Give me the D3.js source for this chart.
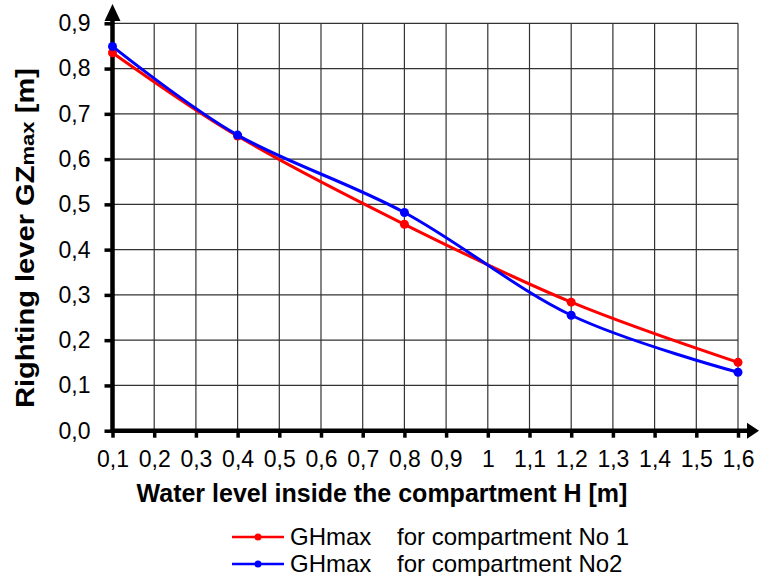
<!DOCTYPE html>
<html>
<head>
<meta charset="utf-8">
<script src="https://cdn.jsdelivr.net/npm/d3@7"></script>
<style>
  body { margin: 0; background: #fff; }
  text { font-family: "Liberation Sans", Arial, sans-serif; }
</style>
</head>
<body>
<div id="chart"></div>
<script>
// water level H [m] at the computed points
var levels = [0.1, 0.4, 0.8, 1.2, 1.6];
var gzComp1 = [0.835, 0.651, 0.456, 0.284, 0.151];
var gzComp2 = [0.849, 0.653, 0.482, 0.255, 0.129];
var xTicks = [0.1,0.2,0.3,0.4,0.5,0.6,0.7,0.8,0.9,1,1.1,1.2,1.3,1.4,1.5,1.6];
var yTicks = [0,0.1,0.2,0.3,0.4,0.5,0.6,0.7,0.8,0.9];
var seriesNames = ["GHmax", "GHmax"];
var seriesNotes = ["for compartment No 1", "for compartment No2"];
var seriesColors = ["#ff0000", "#0000ff"];

var W = 759, H = 576;
var svg = d3.select("#chart").append("svg").attr("width", W).attr("height", H);

var x = d3.scaleLinear().domain([0.1, 1.6]).range([112.5, 738]);
var y = d3.scaleLinear().domain([0, 0.9]).range([430.7, 23.3]);
var fmt = function(d){ return d === 1 ? "1" : d3.format(".1f")(d).replace(".", ","); };

// grid
var grid = svg.append("g");
grid.selectAll(".vg").data(xTicks).enter().append("line")
    .attr("x1", function(d){ return x(d); }).attr("x2", function(d){ return x(d); })
    .attr("y1", y(0)).attr("y2", y(0.9))
    .attr("stroke", "#333").attr("stroke-width", 1.2);
grid.selectAll(".hg").data(yTicks).enter().append("line")
    .attr("x1", x(0.1)).attr("x2", x(1.6))
    .attr("y1", function(d){ return y(d); }).attr("y2", function(d){ return y(d); })
    .attr("stroke", "#333").attr("stroke-width", 1.2);

// axes with arrows
var xAxis = d3.axisBottom(x).tickValues(xTicks).tickFormat(fmt).tickSize(7).tickPadding(13);
var gx = svg.append("g").attr("transform", "translate(0," + y(0) + ")").call(xAxis);
gx.select(".domain").remove();
gx.selectAll(".tick line").attr("stroke", "#000").attr("stroke-width", 3.5);
gx.selectAll(".tick text").style("font-size", "23px").attr("fill", "#000").attr("dy", "0.71em");

var yAxis = d3.axisLeft(y).tickValues(yTicks).tickFormat(fmt).tickSize(8).tickPadding(14);
var gy = svg.append("g").attr("transform", "translate(" + x(0.1) + ",0)").call(yAxis);
gy.select(".domain").remove();
gy.selectAll(".tick line").attr("stroke", "#000").attr("stroke-width", 3.5);
gy.selectAll(".tick text").style("font-size", "23px").attr("fill", "#000");

svg.append("line").attr("x1", x(0.1)).attr("x2", 750).attr("y1", y(0)).attr("y2", y(0))
    .attr("stroke", "#000").attr("stroke-width", 4.5);
svg.append("line").attr("x1", x(0.1)).attr("x2", x(0.1)).attr("y1", y(0) + 2).attr("y2", 14)
    .attr("stroke", "#000").attr("stroke-width", 4.5);
svg.append("path")
    .attr("d", "M" + (x(0.1) - 8) + ",21L" + x(0.1) + ",4L" + (x(0.1) + 8) + ",21Z").attr("fill", "#000");
svg.append("path")
    .attr("d", "M747," + (y(0) - 8) + "L759," + y(0) + "L747," + (y(0) + 8) + "Z").attr("fill", "#000");

// series
var line = d3.line().curve(d3.curveCatmullRom.alpha(0))
    .x(function(d){ return x(d[0]); }).y(function(d){ return y(d[1]); });
[gzComp1, gzComp2].forEach(function(vals, i){
    var pts = levels.map(function(l, j){ return [l, vals[j]]; });
    svg.append("path").datum(pts).attr("d", line)
        .attr("fill", "none").attr("stroke", seriesColors[i]).attr("stroke-width", 3);
    svg.append("g").selectAll("circle").data(pts).enter().append("circle")
        .attr("cx", function(d){ return x(d[0]); }).attr("cy", function(d){ return y(d[1]); })
        .attr("r", 4.5).attr("fill", seriesColors[i]);
});

// axis titles
svg.append("text").attr("x", 382).attr("y", 502).attr("text-anchor", "middle")
    .style("font-size", "25px").attr("font-weight", "bold")
    .text("Water level inside the compartment H [m]");
var yt = svg.append("text").attr("transform", "translate(34,238) rotate(-90)")
    .attr("text-anchor", "middle").style("font-size", "25px").attr("font-weight", "bold")
    .attr("textLength", 340).attr("lengthAdjust", "spacingAndGlyphs");
yt.append("tspan").text("Righting lever GZ");
yt.append("tspan").style("font-size", "19px").text("max");
yt.append("tspan").text(" [m]");

// legend
var leg = svg.append("g").selectAll("g").data(seriesNames).enter().append("g")
    .attr("transform", function(d, i){ return "translate(0," + (537 + i * 27) + ")"; });
leg.append("line").attr("x1", 232).attr("x2", 284).attr("y1", 0).attr("y2", 0)
    .attr("stroke", function(d, i){ return seriesColors[i]; }).attr("stroke-width", 2.5);
leg.append("circle").attr("cx", 258).attr("cy", 0).attr("r", 3.5)
    .attr("fill", function(d, i){ return seriesColors[i]; });
leg.append("text").attr("x", 290).attr("y", 8).style("font-size", "24px").text(function(d){ return d; });
leg.append("text").attr("x", 397).attr("y", 8).style("font-size", "24px")
    .text(function(d, i){ return seriesNotes[i]; });
</script>
</body>
</html>
